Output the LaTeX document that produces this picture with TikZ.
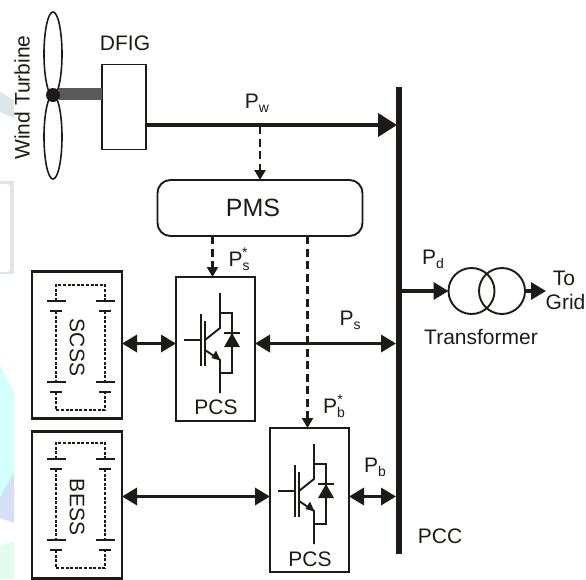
\documentclass[tikz,border=0pt]{standalone}
\usepackage{fontspec}
\setmainfont{Liberation Sans}
\usetikzlibrary{arrows.meta,shapes.geometric}
\definecolor{ink}{HTML}{1E1A18}
\definecolor{paleG}{HTML}{DDE5E9}
\definecolor{paleC}{HTML}{D4FFFF}
\definecolor{paleB}{HTML}{D6DFF6}
\definecolor{paleV}{HTML}{E2FBEE}
\newcommand{\subsz}{\fontsize{14}{14}\selectfont}
\tikzset{
 x=1pt,y=-1pt,
 every node/.style={inner sep=0pt,outer sep=0pt,text=ink},
 lbl/.style={font=\fontsize{21}{21}\selectfont},
 boxx/.style={draw=ink,line width=2.4pt},
 bus/.style={draw=ink,line width=6.5pt},
 power/.style={draw=ink,line width=3.4pt},
 dtip/.style={{Triangle[length=15pt,width=17pt]}-{Triangle[length=15pt,width=17pt]}},
 ctl/.style={draw=ink,line width=2.2pt,dash pattern=on 8pt off 4.5pt,-{Triangle[length=10pt,width=11pt]}},
 cell/.style={draw=ink,line width=1.7pt},
 celld/.style={draw=ink,line width=1.9pt,dash pattern=on 3pt off 1.6pt},
 sw/.style={draw=ink,line width=1.9pt},
 blade/.style={draw=ink,line width=1.6pt,ellipse,minimum width=18pt,minimum height=84pt},
}
\newcommand{\batt}[2]{%
 \begin{scope}[shift={(#1,#2)}]
  \draw[celld] (0,16) -- (0,0) -- (49,0) -- (49,16);
  \draw[cell] (-9,16) -- (10,16) (40,16) -- (59,16);
  \draw[cell,line width=2.6pt] (-6,26) -- (6,26) (43,26) -- (55,26);
  \draw[celld] (0,26) -- (0,97) (49,26) -- (49,97);
  \draw[cell] (-9,97) -- (10,97) (40,97) -- (59,97);
  \draw[cell,line width=2.6pt] (-6,107) -- (6,107) (43,107) -- (55,107);
  \draw[celld] (0,107) -- (0,125) -- (49,125) -- (49,107);
 \end{scope}}
\newcommand{\igbt}[2]{%
 \begin{scope}[shift={(#1,#2)}]
  \draw[sw] (-36,0) -- (-19,0);
  \draw[sw] (-19,-26) -- (-19,26);
  \draw[sw] (-15,-19) -- (-15,26);
  \draw[sw] (0,-47) -- (0,-12) -- (-15,0);
  \draw[sw] (0,-27) -- (12,-27) -- (12,33) -- (0,33);
  \draw[sw] (-15,10) -- (0,20) -- (0,53);
  \fill[ink] (0.5,20.5) -- (-8.5,18) -- (-4,10.5) -- cycle;
  \fill[ink] (12,-7) -- (4,7) -- (20,7) -- cycle;
  \draw[sw] (4,-7) -- (20,-7);
 \end{scope}}
\begin{document}
\begin{tikzpicture}
\useasboundingbox (0,0) rectangle (586,579);
\fill[white] (0,0) rectangle (586,579);
% pale background fragments
\fill[paleG] (0,92) -- (14,100) -- (14,118) -- (0,112) -- cycle;
\fill[paleG] (0,181) rectangle (14,274);
\fill[white,rounded corners=3pt] (-8,184) rectangle (10,272);
\fill[paleC] (0,365) -- (14,392) -- (14,472) -- (0,497) -- cycle;
\fill[paleB] (0,497) -- (14,472) -- (14,523) -- (0,518) -- cycle;
\fill[paleV] (0,545) -- (14,541) -- (14,579) -- (0,579) -- cycle;
% blades and hub
\node[blade] (bladeA) at (53,54) {};
\node[blade] (bladeB) at (53,137) {};
% DFIG
\node[boxx,line width=1.8pt,minimum width=44pt,minimum height=85pt] (dfig) at (124,107) {};
\node[lbl] at (125,43) {DFIG};
\fill[gray!70!black] (59,88) rectangle (102,100);
\fill[ink] (53,95) circle (7);
\node[lbl,rotate=90] at (22,97.5) {Wind Turbine};
% bus
\coordinate (busT) at (399,87);
\coordinate (busB) at (399,554);
\draw[bus] (busT) -- (busB);
% main line
\coordinate (pwStart) at (146,125);
\coordinate (pwEnd) at (397,125);
\draw[power,line width=4pt,-{Triangle[length=19pt,width=23pt]}] (pwStart) -- (pwEnd);
\node[lbl,anchor=base] (pw) at (257,108) {P\raisebox{-4pt}{\subsz w}};
% PMS
\node[draw=ink,line width=1.9pt,rounded corners=13pt,minimum width=205pt,minimum height=56pt] (pms) at (260,208) {};
\node[font=\fontsize{25}{25}\selectfont] (pmsText) at (253,208) {PMS};
\coordinate (tap) at (260,126);
\draw[ctl] (tap) -- (pms.north);
% SCSS
\node[boxx,minimum width=90pt,minimum height=147pt] (scss) at (77,345) {};
\node[lbl,rotate=-90] at (77,347.5) {SCSS};
\batt{56}{285}
% PCS 1
\node[boxx,minimum width=79pt,minimum height=144pt] (pcsA) at (215.5,349) {};
\node[lbl] at (216,407) {PCS};
\igbt{220}{340}
% BESS
\node[boxx,minimum width=90pt,minimum height=147pt] (bess) at (77,505) {};
\node[lbl,rotate=-90] at (77,507) {BESS};
\batt{56}{443}
% PCS 2
\node[boxx,minimum width=79pt,minimum height=144pt] (pcsB) at (309.5,500) {};
\node[lbl] at (310,559) {PCS};
\igbt{314}{491}
% control lines
\coordinate (pmsA) at (212.5,236);
\coordinate (pmsB) at (307.5,236);
\draw[ctl] (pmsA) -- (pmsA |- pcsA.north);
\draw[ctl] (pmsB) -- (pmsB |- pcsB.north);
% bidirectional
\coordinate (yA) at (0,343.5);
\coordinate (yB) at (0,496.5);
\coordinate (bA) at (396,343.5);
\coordinate (bB) at (396,496.5);
\draw[power,dtip] (scss.east |- yA) -- (pcsA.west |- yA);
\draw[power,dtip] (pcsA.east |- yA) -- (bA);
\draw[power,dtip] (bess.east |- yB) -- (pcsB.west |- yB);
\draw[power,dtip] (pcsB.east |- yB) -- (bB);
% transformer
\node[draw=ink,line width=1.9pt,circle,minimum size=46pt] (tA) at (471.5,291) {};
\node[draw=ink,line width=1.9pt,circle,minimum size=46pt] (tB) at (502,291) {};
\coordinate (pdS) at (402,291);
\coordinate (grid) at (546,291);
\draw[power,-{Triangle[length=15pt,width=17pt]}] (pdS) -- (tA.west);
\draw[power,-{Triangle[length=15pt,width=17pt]}] (tB.east) -- (grid);
% labels
\node[lbl] at (481,337) {Transformer};
\node[lbl] at (564,278) {To};
\node[lbl] at (565.5,302) {Grid};
\node[lbl,anchor=base] at (433,264) {P\raisebox{-4pt}{\subsz d}};
\node[lbl,anchor=base] at (350,325) {P\raisebox{-4pt}{\subsz s}};
\node[lbl,anchor=base] at (375,472) {P\raisebox{-4pt}{\subsz b}};
\node[lbl,anchor=base] at (238,266) {P\raisebox{-4pt}{\subsz s}\hspace{-7.5pt}\raisebox{9pt}{\subsz *}};
\node[lbl,anchor=base] at (333,413) {P\raisebox{-4pt}{\subsz b}\hspace{-7.5pt}\raisebox{9pt}{\subsz *}};
\node[lbl] at (440,536) {PCC};
\end{tikzpicture}
\end{document}
